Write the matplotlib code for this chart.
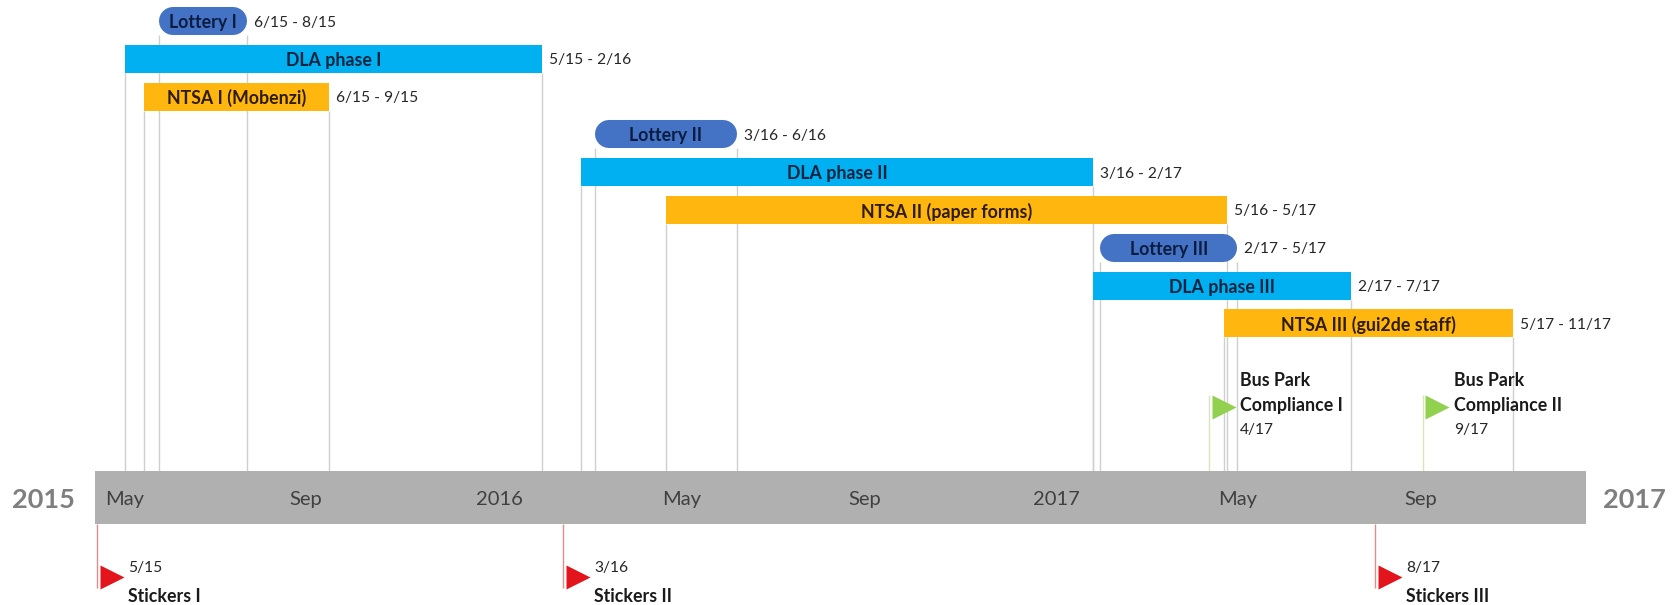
import matplotlib
matplotlib.use("Agg")
import matplotlib.pyplot as plt

plt.rcParams['font.family'] = ['Lato', 'DejaVu Sans']

# all times are in months counted from May 2015
names = ["Lottery I", "DLA phase I", "NTSA I (Mobenzi)",
         "Lottery II", "DLA phase II", "NTSA II (paper forms)",
         "Lottery III", "DLA phase III", "NTSA III (gui2de staff)"]
kinds = ["lottery", "dla", "ntsa"] * 3
starts = [0.74, 0.0, 0.41, 10.14, 9.84, 11.68, 21.04, 20.88, 23.71]
ends = [2.63, 9.0, 4.40, 13.2, 20.88, 23.78, 24.0, 26.45, 29.95]
ranges = ["6/15 - 8/15", "5/15 - 2/16", "6/15 - 9/15",
          "3/16 - 6/16", "3/16 - 2/17", "5/16 - 5/17",
          "2/17 - 5/17", "2/17 - 7/17", "5/17 - 11/17"]

tick_months = [0, 3.9, 8.07, 12, 15.97, 20.1, 24, 27.95]
tick_labels = ["May", "Sep", "2016", "May", "Sep", "2017", "May", "Sep"]

sticker_months = [-0.6, 9.45, 26.97]
sticker_dates = ["5/15", "3/16", "8/17"]
sticker_names = ["Stickers I", "Stickers II", "Stickers III"]

park_months = [23.39, 28.0]
park_dates = ["4/17", "9/17"]
park_names = ["Bus Park\nCompliance I", "Bus Park\nCompliance II"]

colors = {"lottery": "#4472c4", "dla": "#00b0f0", "ntsa": "#ffb60f"}
text_colors = {"lottery": "#0c1c40", "dla": "#0a2440", "ntsa": "#2e1c05"}

# pixel scale of the picture
px_month = 46.35
px_row = 37.8
x0_px = 125
y0_px = 21


def mx(px):
    return px / px_month


def ry(px):
    return px / px_row


fig = plt.figure(figsize=(16.75, 6.05), dpi=100)
ax = fig.add_axes([0, 0, 1, 1])
ax.set_xlim(-x0_px / px_month, (1675 - x0_px) / px_month)
ax.set_ylim((605 - y0_px) / px_row, -y0_px / px_row)
ax.axis("off")

band_top = ry(471 - y0_px)
band_bottom = ry(524 - y0_px)
band_left = mx(95 - x0_px)
band_right = mx(1586 - x0_px)
ax.fill_between([band_left, band_right], band_top, band_bottom, color="#b0b0b0", lw=0, zorder=2)

band_mid = (band_top + band_bottom) / 2 + ry(2)
ax.text(mx(43 - x0_px), band_mid, "2015", ha="center", va="center",
        fontsize=19.5, fontweight="bold", color="#7f7f7f")
ax.text(mx(1634 - x0_px), band_mid, "2017", ha="center", va="center",
        fontsize=19.5, fontweight="bold", color="#7f7f7f")

for m, lab in zip(tick_months, tick_labels):
    ax.text(m, band_mid, lab, ha="center", va="center", fontsize=14.5, color="#404040", zorder=4)

bar_h = 0.74
shift = ry(1.5)
for i, name in enumerate(names):
    kind = kinds[i]
    # guide lines down to the band
    ax.vlines([starts[i], ends[i]], i + bar_h / 2, band_top, color="#cfcfcf", lw=1, zorder=1)
    if kind == "lottery":
        # pill shape: a thick line with round caps
        ax.plot([starts[i] + mx(14), ends[i] - mx(14)], [i, i], color=colors[kind], lw=20.2,
                solid_capstyle="round", zorder=3)
    else:
        ax.barh(i, ends[i] - starts[i], left=starts[i], height=bar_h, color=colors[kind], zorder=3)
    ax.text((starts[i] + ends[i]) / 2, i + shift, name, ha="center", va="center", fontsize=12.8,
            fontweight="bold", color=text_colors[kind], zorder=4)
    ax.text(ends[i] + mx(7), i + shift, ranges[i], ha="left", va="center", fontsize=11.2,
            color="#262626", zorder=4)

# bus park flags
flag_y = ry(406.5 - y0_px)
for m, d, n in zip(park_months, park_dates, park_names):
    ax.vlines(m, ry(395 - y0_px), band_top, color="#d6e6b8", lw=1, zorder=1)
    ax.plot(m + mx(14.5), flag_y, marker=">", ms=17, color="#92d050", mec="none", zorder=3)
    ax.text(m + mx(31), ry(393 - y0_px), n, ha="left", va="center", fontsize=12.8, fontweight="bold",
            color="#1a1a1a", linespacing=1.5, zorder=4)
    ax.text(m + mx(31), ry(430 - y0_px), d, ha="left", va="center", fontsize=11.2, color="#262626", zorder=4)

# stickers flags
for m, d, n in zip(sticker_months, sticker_dates, sticker_names):
    ax.vlines(m, band_bottom, ry(588 - y0_px), color="#e58b8b", lw=1, zorder=1)
    ax.plot(m + mx(14.5), ry(577 - y0_px), marker=">", ms=17, color="#e3141c", mec="none", zorder=3)
    ax.text(m + mx(31), ry(568 - y0_px), d, ha="left", va="center", fontsize=11.2, color="#262626", zorder=4)
    ax.text(m + mx(31), ry(596 - y0_px), n, ha="left", va="center", fontsize=12.8, fontweight="bold",
            color="#1a1a1a", zorder=4)

fig.savefig("out.png", dpi=100)
